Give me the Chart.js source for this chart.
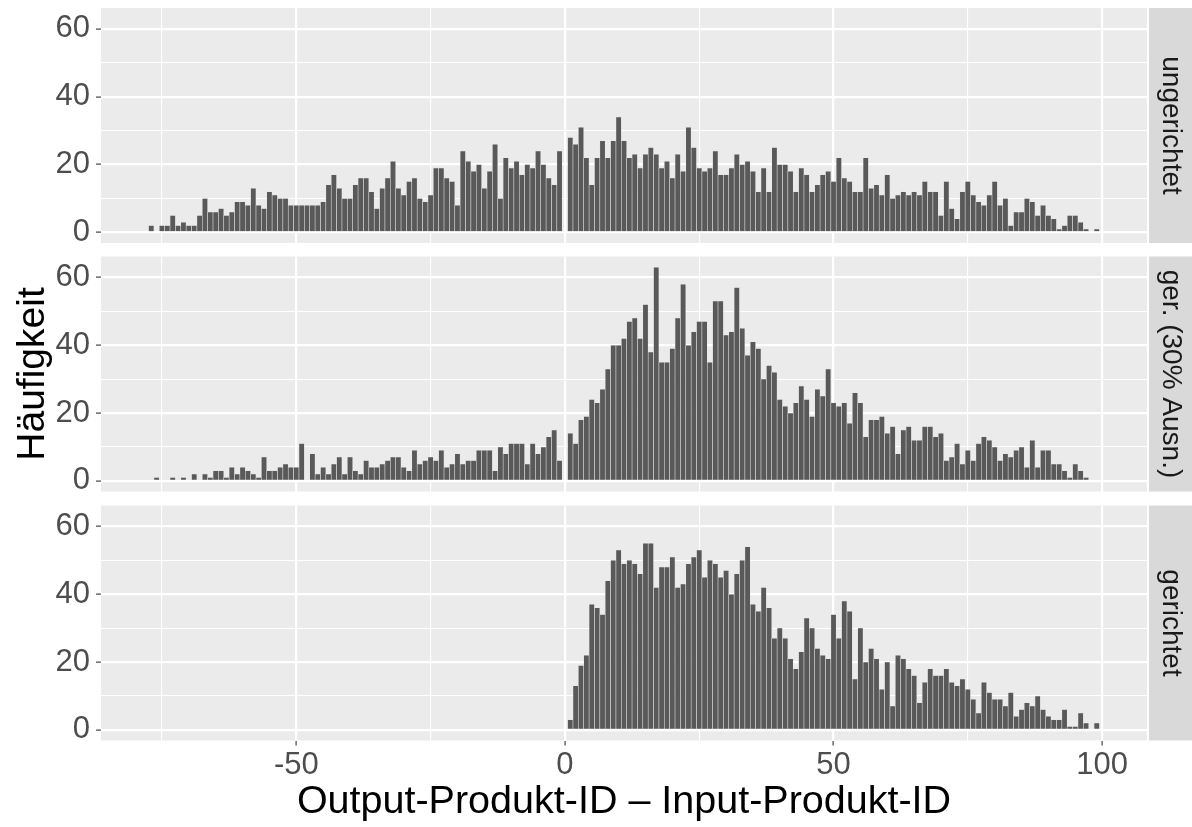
<!DOCTYPE html>
<html><head><meta charset="utf-8">
<script src="https://cdn.jsdelivr.net/npm/chart.js@4.4.1/dist/chart.umd.min.js"></script>
<style>
html,body{margin:0;padding:0;background:#fff;}
#wrap{position:relative;width:1192px;height:827px;overflow:hidden;background:#fff;}
canvas{position:absolute;left:0;top:0;}
</style></head><body><div id="wrap">
<canvas id="c0" width="1192" height="827"></canvas>
<canvas id="c1" width="1192" height="827"></canvas>
<canvas id="c2" width="1192" height="827"></canvas>
</div>
<script>
// ---- data ----
const bins = [-77,-76,-75,-74,-73,-72,-71,-70,-69,-68,-67,-66,-65,-64,-63,-62,-61,-60,-59,-58,-57,-56,-55,-54,-53,-52,-51,-50,-49,-48,-47,-46,-45,-44,-43,-42,-41,-40,-39,-38,-37,-36,-35,-34,-33,-32,-31,-30,-29,-28,-27,-26,-25,-24,-23,-22,-21,-20,-19,-18,-17,-16,-15,-14,-13,-12,-11,-10,-9,-8,-7,-6,-5,-4,-3,-2,-1,0,1,2,3,4,5,6,7,8,9,10,11,12,13,14,15,16,17,18,19,20,21,22,23,24,25,26,27,28,29,30,31,32,33,34,35,36,37,38,39,40,41,42,43,44,45,46,47,48,49,50,51,52,53,54,55,56,57,58,59,60,61,62,63,64,65,66,67,68,69,70,71,72,73,74,75,76,77,78,79,80,81,82,83,84,85,86,87,88,89,90,91,92,93,94,95,96,97,98,99];

// counts for bins -77 .. 99
const countsUngerichtet = [2,0,2,2,5,2,3,2,2,5,10,6,6,7,5,6,9,9,8,13,8,7,12,11,10,10,8,8,8,8,8,8,9,14,17,13,10,10,14,16,16,12,7,13,16,21,13,11,15,16,10,9,11,19,19,16,15,8,24,21,18,20,13,18,26,10,22,19,21,17,20,19,24,20,16,14,24,0,28,26,31,22,14,22,27,22,27,34,27,22,23,19,23,25,23,19,21,16,23,18,31,25,19,18,19,24,17,17,19,23,20,21,18,12,19,12,25,20,20,18,12,19,17,12,14,17,18,15,22,16,15,12,12,22,13,14,11,17,10,11,12,11,12,11,15,12,12,5,15,7,4,12,15,11,9,8,11,15,8,10,2,6,6,10,9,5,8,5,4,1,2,5,5,3,1,0,1];

// counts for bins -77 .. 99
const countsAusn30 = [0,1,0,0,1,0,1,0,2,0,2,1,3,3,1,4,2,4,3,2,1,7,3,3,4,5,4,4,11,0,8,2,4,2,5,7,2,7,3,2,6,4,4,5,6,7,7,4,3,9,5,6,7,6,9,4,5,8,5,6,6,9,9,9,3,10,8,11,11,11,5,11,8,10,13,15,6,0,14,11,18,19,24,23,27,33,40,40,42,47,48,42,52,38,63,35,35,39,48,58,40,44,47,47,35,53,53,43,44,57,45,37,41,39,30,34,32,24,22,20,23,28,24,19,27,25,33,23,22,23,17,26,23,13,18,18,19,14,16,8,15,16,12,12,16,16,13,14,6,7,11,5,9,6,11,13,12,10,6,8,7,9,10,4,12,4,9,9,5,5,3,1,5,3,1,0,0];

// counts for bins 1 .. 99 (no values below 1)
const countsGerichtet = [3,13,19,22,37,36,34,44,50,53,49,50,49,46,55,55,42,48,48,51,42,43,49,51,53,45,50,49,45,47,40,46,50,54,37,35,42,36,27,30,27,21,18,23,33,30,24,22,21,34,27,38,35,15,30,20,24,21,12,20,7,22,21,18,16,8,14,18,16,16,18,14,13,15,12,9,5,14,11,9,9,7,11,4,6,8,7,10,6,4,3,3,6,1,1,5,2,0,2];

const panelLabels = ['ungerichtet', 'ger. (30% Ausn.)', 'gerichtet'];
const xTickValues = [-75, -50, -25, 0, 25, 50, 75, 100];
const xTickLabelled = [-50, 0, 50, 100];
const yTickValues = [0, 10, 20, 30, 40, 50, 60];
const yTickLabelled = [0, 20, 40, 60];
const xTitle = 'Output-Produkt-ID – Input-Produkt-ID';
const yTitle = 'Häufigkeit';

// ---- layout (styling) ----
const FONT = "'Liberation Sans', Arial, Helvetica, sans-serif";
const W = 1192, H = 827;
const PANEL_LEFT = 101, PANEL_RIGHT = 1147;
const PANEL_TOPS = [8, 256.5, 505.5];
const PANEL_H = 235;
const X_MIN = -86.35, X_MAX = 108.35;
const Y_MIN = -3.15, Y_MAX = 66.15;

const panelBg = {
  id: 'panelBg',
  beforeDraw(chart) {
    const {ctx, chartArea: a} = chart;
    ctx.save();
    ctx.fillStyle = '#EBEBEB';
    ctx.fillRect(a.left, a.top, a.right - a.left, a.bottom - a.top);
    ctx.restore();
  }
};
const strip = {
  id: 'strip',
  afterDraw(chart, args, opts) {
    const {ctx, chartArea: a} = chart;
    ctx.save();
    ctx.fillStyle = '#D9D9D9';
    ctx.fillRect(1149, a.top, W - 1149, a.bottom - a.top);
    ctx.translate(1171, (a.top + a.bottom) / 2);
    ctx.rotate(Math.PI / 2);
    ctx.textAlign = 'center';
    ctx.textBaseline = 'middle';
    ctx.fillStyle = '#1A1A1A';
    ctx.font = '28px ' + FONT;
    ctx.fillText(opts.label, 0, 0);
    ctx.restore();
  }
};

function makeChart(idx, counts, binList) {
  const top = PANEL_TOPS[idx];
  const bottomPanel = idx === 2;
  const xAxisH = bottomPanel ? (H - (top + PANEL_H)) : 0;
  const data = binList.map((b, i) => ({x: b, y: counts[i] > 0 ? counts[i] : null}));
  return new Chart(document.getElementById('c' + idx), {
    type: 'bar',
    data: {
      datasets: [{
        data: data,
        backgroundColor: '#595959',
        borderColor: 'rgba(225,225,225,0.7)',
        borderWidth: 0.6,
        borderSkipped: 'start',
        barPercentage: 1,
        categoryPercentage: 1
      }]
    },
    plugins: [panelBg, strip],
    options: {
      responsive: false,
      animation: false,
      devicePixelRatio: 1,
      layout: {padding: {top: top, left: 0, right: W - PANEL_RIGHT, bottom: H - (top + PANEL_H) - xAxisH}},
      plugins: {legend: {display: false}, tooltip: {enabled: false}, strip: {label: panelLabels[idx]}},
      scales: {
        x: {
          type: 'linear',
          min: X_MIN, max: X_MAX,
          offset: false,
          afterBuildTicks: s => { s.ticks = xTickValues.map(v => ({value: v})); },
          afterFit: s => { s.height = xAxisH; s.paddingLeft = 0; s.paddingRight = 0; },
          border: {display: false},
          grid: {
            offset: false,
            color: '#FFFFFF',
            lineWidth: c => (c.tick && xTickLabelled.includes(c.tick.value)) ? 2.2 : 1.1,
            drawTicks: bottomPanel,
            tickLength: 5,
            tickWidth: 1.1,
            tickColor: c => (c.tick && xTickLabelled.includes(c.tick.value)) ? '#333333' : 'rgba(0,0,0,0)'
          },
          ticks: {
            display: bottomPanel,
            padding: 1,
            maxRotation: 0,
            autoSkip: false,
            color: '#4D4D4D',
            font: {family: FONT, size: 31},
            callback: v => xTickLabelled.includes(v) ? String(v) : ''
          },
          title: {
            display: bottomPanel,
            text: xTitle,
            color: '#000000',
            font: {family: FONT, size: 39.5},
            padding: {top: 0, bottom: 1.6}
          }
        },
        y: {
          type: 'linear',
          min: Y_MIN, max: Y_MAX,
          afterBuildTicks: s => { s.ticks = yTickValues.map(v => ({value: v})); },
          afterFit: s => { s.width = PANEL_LEFT; s.paddingTop = 0; s.paddingBottom = 0; },
          border: {display: false},
          grid: {
            offset: false,
            color: '#FFFFFF',
            lineWidth: c => (c.tick && yTickLabelled.includes(c.tick.value)) ? 2.2 : 1.1,
            drawTicks: true,
            tickLength: 5,
            tickWidth: 1.1,
            tickColor: c => (c.tick && yTickLabelled.includes(c.tick.value)) ? '#333333' : 'rgba(0,0,0,0)'
          },
          ticks: {
            padding: 6,
            autoSkip: false,
            color: '#4D4D4D',
            font: {family: FONT, size: 31},
            callback: v => yTickLabelled.includes(v) ? String(v) : ''
          },
          title: {
            display: idx === 1,
            text: yTitle,
            color: '#000000',
            font: {family: FONT, size: 39},
            padding: {top: 10, bottom: 0}
          }
        }
      }
    }
  });
}

makeChart(0, countsUngerichtet, bins);
makeChart(1, countsAusn30, bins);
makeChart(2, countsGerichtet, bins.slice(bins.indexOf(1)));
</script>
</body></html>
